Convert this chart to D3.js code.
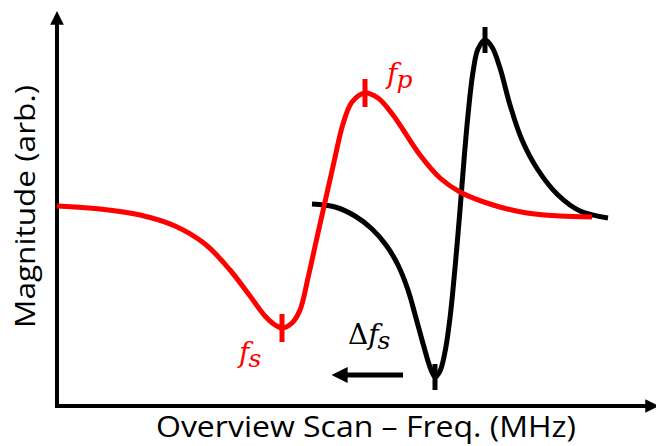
<!DOCTYPE html>
<html>
<head>
<meta charset="utf-8">
<script src="https://cdn.jsdelivr.net/npm/d3@7"></script>
<style>
  html, body { margin: 0; padding: 0; background: #fff; }
  svg { display: block; }
</style>
</head>
<body>
<svg id="chart" width="656" height="446"></svg>
<script>
// Frequency sweep (arbitrary units) and magnitude (arbitrary units)
const shiftedFreq = [0, 43, 83, 118, 148, 173, 193, 208, 218, 225, 235, 243, 251, 259, 268, 277, 286, 295, 308, 321, 336, 363, 383, 403, 436, 470, 503, 535];
const shiftedMag  = [200, 197, 191, 180, 162, 136, 110, 90, 81, 78, 83, 96, 128, 164, 204, 244, 282, 304, 313, 308, 291, 251, 228, 214, 201, 193, 190, 189];

const refFreq = [255, 278, 298, 315, 329, 341, 351, 359, 367, 373, 378, 383, 388, 393, 398, 403, 407, 411, 416, 421, 428, 435, 443, 453, 465, 481, 501, 523, 551];
const refMag  = [202, 199, 190, 177, 161, 141, 116, 88, 59, 39, 29, 35, 54, 88, 138, 196, 246, 291, 334, 357, 366, 359, 338, 301, 266, 236, 211, 195, 188];

// Marked resonances
const fsMark = { freq: 225, mag: 78 };
const fpMark = { freq: 308, mag: 313 };
const refMinMark = { freq: 378, mag: 29 };
const refMaxMark = { freq: 428, mag: 366 };

const svg = d3.select("#chart");
const x0 = 57, yBase = 406;

const x = d3.scaleLinear().domain([0, 600]).range([x0, x0 + 600]);
const y = d3.scaleLinear().domain([0, 400]).range([yBase, yBase - 400]);

// Arrow markers for axes and the shift arrow
const defs = svg.append("defs");
defs.append("marker")
  .attr("id", "axisHead")
  .attr("viewBox", "0 0 10 10")
  .attr("refX", 2).attr("refY", 5)
  .attr("markerWidth", 3.4).attr("markerHeight", 3.4)
  .attr("markerUnits", "strokeWidth")
  .attr("orient", "auto")
  .append("path").attr("d", "M0,0 L10,5 L0,10 Z").attr("fill", "#000");

// Axes
svg.append("line")
  .attr("x1", x0).attr("y1", yBase + 2)
  .attr("x2", x0).attr("y2", 22)
  .attr("stroke", "#000").attr("stroke-width", 4)
  .attr("marker-end", "url(#axisHead)");
svg.append("line")
  .attr("x1", x0 - 2).attr("y1", yBase)
  .attr("x2", 648).attr("y2", yBase)
  .attr("stroke", "#000").attr("stroke-width", 4)
  .attr("marker-end", "url(#axisHead)");

const line = d3.line()
  .x(d => x(d[0]))
  .y(d => y(d[1]))
  .curve(d3.curveCatmullRom.alpha(0.5));

// Reference (black) response
svg.append("path")
  .datum(d3.zip(refFreq, refMag))
  .attr("d", line)
  .attr("fill", "none")
  .attr("stroke", "#000")
  .attr("stroke-width", 5)
  .attr("stroke-linejoin", "round");

// Shifted (red) response
svg.append("path")
  .datum(d3.zip(shiftedFreq, shiftedMag))
  .attr("d", line)
  .attr("fill", "none")
  .attr("stroke", "#ff0000")
  .attr("stroke-width", 5)
  .attr("stroke-linejoin", "round");

// Tick marks at resonances
function tick(m, color, len) {
  svg.append("line")
    .attr("x1", x(m.freq)).attr("x2", x(m.freq))
    .attr("y1", y(m.mag) - len / 2).attr("y2", y(m.mag) + len / 2)
    .attr("stroke", color).attr("stroke-width", 5);
}
tick(fsMark, "#ff0000", 28);
tick(fpMark, "#ff0000", 28);
tick(refMinMark, "#000", 26);
tick(refMaxMark, "#000", 26);

// Math labels
const mathFont = "DejaVu Serif";
function mathLabel(px, py, main, sub, color, prefix) {
  const t = svg.append("text")
    .attr("x", px).attr("y", py)
    .attr("fill", color)
    .attr("font-family", mathFont)
    .attr("font-size", 28);
  if (prefix) t.append("tspan").attr("font-style", "normal").text(prefix);
  t.append("tspan").attr("font-style", "italic").text(main);
  t.append("tspan").attr("font-style", "italic")
    .attr("font-size", 25).attr("dx", -1).attr("dy", 5).text(sub);
}
mathLabel(x(fpMark.freq) + 22, 83, "f", "p", "#ff0000");
mathLabel(x(fsMark.freq) - 43, 362, "f", "s", "#ff0000");
mathLabel(348, 344, "f", "s", "#000", "Δ");

// Shift arrow (pointing to lower frequency)
defs.append("marker")
  .attr("id", "shiftHead")
  .attr("viewBox", "0 0 10 10")
  .attr("refX", 1).attr("refY", 5)
  .attr("markerWidth", 3.2).attr("markerHeight", 3.2)
  .attr("markerUnits", "strokeWidth")
  .attr("orient", "auto")
  .append("path").attr("d", "M0,0 L10,5 L0,10 Z").attr("fill", "#000");
svg.append("line")
  .attr("x1", 403).attr("y1", 375)
  .attr("x2", 346).attr("y2", 375)
  .attr("stroke", "#000").attr("stroke-width", 5)
  .attr("marker-end", "url(#shiftHead)");

// Axis titles
const labelFont = "'Open Sans', 'Noto Sans', sans-serif";
svg.append("text")
  .attr("x", 156).attr("y", 437)
  .attr("font-family", labelFont)
  .attr("font-size", 29)
  .attr("textLength", 420)
  .attr("lengthAdjust", "spacingAndGlyphs")
  .attr("fill", "#000")
  .text("Overview Scan – Freq. (MHz)");

svg.append("text")
  .attr("transform", "translate(35,328) rotate(-90)")
  .attr("font-family", labelFont)
  .attr("font-size", 28)
  .attr("textLength", 243)
  .attr("lengthAdjust", "spacingAndGlyphs")
  .attr("fill", "#000")
  .text("Magnitude (arb.)");
</script>
</body>
</html>
